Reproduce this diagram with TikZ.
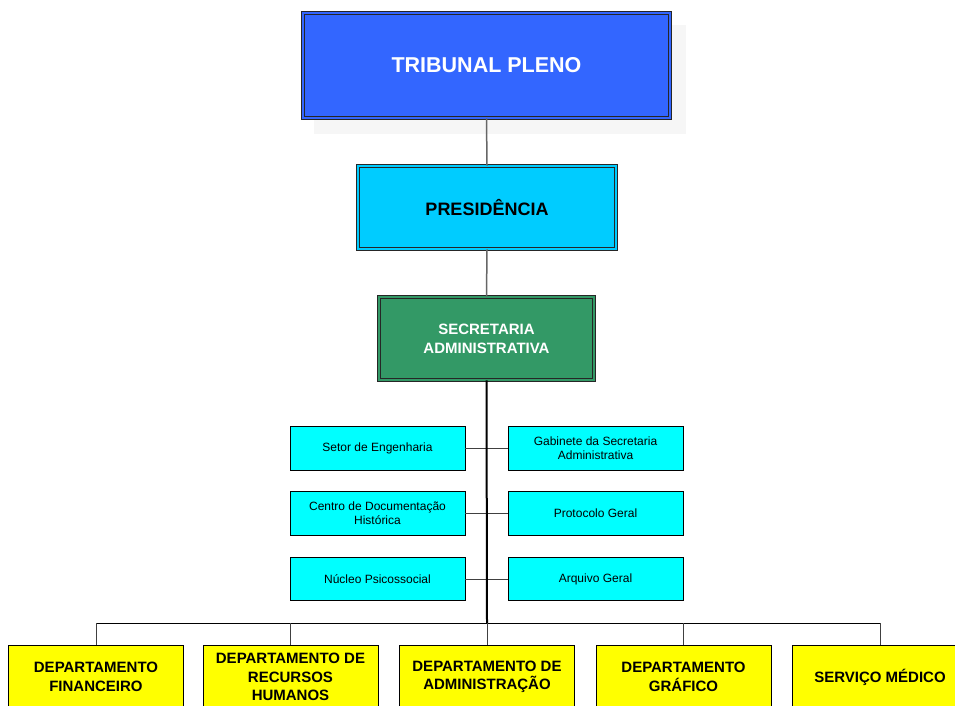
\documentclass[tikz,border=0pt]{standalone}
\usepackage{fontspec}
\setmainfont{Liberation Sans}
\begin{document}
\begin{tikzpicture}[x=1pt,y=-1pt,
  mainbox/.style={draw=black!85, line width=0.8pt, double distance=2pt, align=center, font=\bfseries, inner sep=0pt},
  subbox/.style={draw=black, line width=0.8pt, fill=subcyan, minimum width=175pt, minimum height=43.5pt,
    align=center, inner sep=0pt, font=\fontsize{12}{14}\selectfont},
  deptbox/.style={draw=black, line width=0.8pt, fill=deptyellow, minimum width=175pt, minimum height=64pt,
    align=center, inner sep=0pt, font=\fontsize{15}{18.5}\selectfont\bfseries},
  trunk/.style={draw=black!60, line width=1.5pt},
  spine/.style={draw=black, line width=2pt},
  branch/.style={draw=black!75, line width=1pt}
]
\definecolor{plenoblue}{HTML}{3366FF}
\definecolor{presicyan}{HTML}{00CCFF}
\definecolor{secgreen}{HTML}{339966}
\definecolor{subcyan}{HTML}{00FFFF}
\definecolor{deptyellow}{HTML}{FFFF00}
\definecolor{shadowgray}{HTML}{F6F6F6}

\useasboundingbox (0,0) rectangle (955,706);
\fill[white] (0,0) rectangle (955,706);

% faint drop shadow behind the top box
\fill[shadowgray] (314,25) rectangle (686,134);

% upper hierarchy
\node[mainbox, fill=plenoblue, double=plenoblue, minimum width=367pt, minimum height=105pt,
  text=white, font=\fontsize{21.5}{24}\selectfont\bfseries] (tp) at (486.5,65.5) {TRIBUNAL PLENO};
\node[mainbox, fill=presicyan, double=presicyan, minimum width=258pt, minimum height=83pt,
  text=black, font=\fontsize{18}{21}\selectfont\bfseries] (pr) at (487,207.5) {PRESIDÊNCIA};
\node[mainbox, fill=secgreen, double=secgreen, minimum width=215pt, minimum height=83pt,
  text=white, font=\fontsize{15}{19}\selectfont\bfseries] (sa) at (486.5,338.5) {SECRETARIA\\ADMINISTRATIVA};

% advisory units
\node[subbox] (se) at (377.5,448.5) {Setor de Engenharia};
\node[subbox] (gs) at (595.5,448.5) {Gabinete da Secretaria\\Administrativa};
\node[subbox] (cd) at (377.5,513.5) {Centro de Documentação\\Histórica};
\node[subbox] (pg) at (595.5,513.5) {Protocolo Geral};
\node[subbox] (np) at (377.5,579) {Núcleo Psicossocial};
\node[subbox] (ag) at (595.5,579) {Arquivo Geral};

% departments
\node[deptbox] (d1) at (96,677) {DEPARTAMENTO\\FINANCEIRO};
\node[deptbox] (d2) at (290.5,677) {DEPARTAMENTO DE\\RECURSOS\\HUMANOS};
\node[deptbox] (d3) at (487,677) {DEPARTAMENTO DE\\ADMINISTRAÇÃO};
\node[deptbox] (d4) at (683.5,677) {DEPARTAMENTO\\GRÁFICO};
\node[deptbox] (d5) at (880,677) {SERVIÇO MÉDICO};

\coordinate (bar) at (487,623);

% connectors
\draw[trunk] (tp.south) -- (pr.north);
\draw[trunk] (pr.south) -- (sa.north);
\draw[branch] (se.east) -- (gs.west);
\draw[branch] (cd.east) -- (pg.west);
\draw[branch] (np.east) -- (ag.west);
\draw[spine] (sa.south) -- (bar);
\draw[branch, draw=black] (d1.north |- bar) -- (d5.north |- bar);
\foreach \d in {d1,d2,d3,d4,d5}
  \draw[branch] (\d.north |- bar) -- (\d.north);
\end{tikzpicture}
\end{document}
